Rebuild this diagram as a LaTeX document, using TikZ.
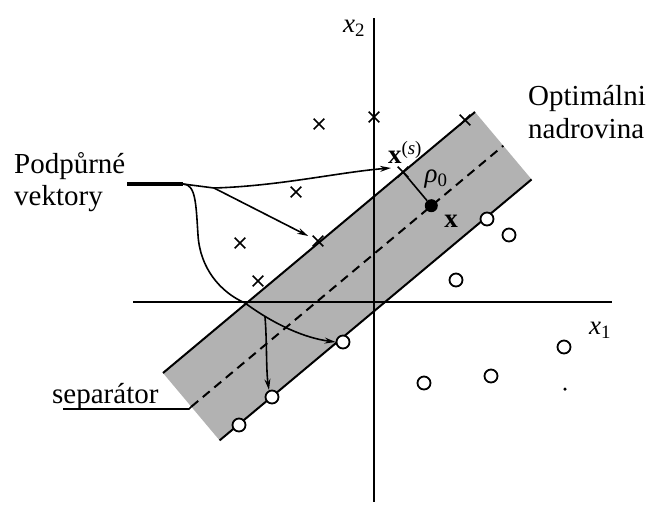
\documentclass[tikz,border=0pt]{standalone}
\usepackage{fontspec}
\setmainfont{Liberation Serif}
\usetikzlibrary{shapes.misc,arrows.meta,calc}
\begin{document}
\begin{tikzpicture}[x=1pt,y=-1pt,
  lbl/.style={font=\fontsize{29}{31}\selectfont, inner sep=0, anchor=base west},
  mlbl/.style={font=\fontsize{27}{29}\selectfont, inner sep=0},
  xmark/.style={draw, cross out, minimum size=9pt, inner sep=0, line width=1.7pt},
  omark/.style={draw, circle, minimum size=13pt, inner sep=0, line width=1.8pt, fill=white},
  bandline/.style={line width=2pt},
  axisline/.style={line width=2pt},
  ptr/.style={line width=1.6pt},
  tip/.style={-{Stealth[length=11pt,width=6pt]}, line width=1.6pt},
]
\useasboundingbox (0,0) rectangle (646,504);

% band
\coordinate (A) at (163,373);
\coordinate (B) at (475,112);
\coordinate (C) at (531.6,179.4);
\coordinate (D) at (219.6,440.4);
\coordinate (MA) at (191.3,406.7);
\coordinate (MB) at (503.3,145.7);
\fill[black!30] (A) -- (B) -- (C) -- (D) -- cycle;

% axes
\coordinate (h0) at (133,302);
\coordinate (h1) at (612,302);
\coordinate (v0) at (374,18);
\coordinate (v1) at (374,502);
\draw[axisline] (h0) -- (h1);
\draw[axisline] (v0) -- (v1);
\node[mlbl] (x2) at (354,28) {\textit{x}\textsubscript{2}};
\node[mlbl] (x1) at (600,330) {\textit{x}\textsubscript{1}};

% band edges and hyperplane
\draw[bandline] (A) -- (B);
\draw[bandline] (D) -- (C);
\draw[bandline, dash pattern=on 9pt off 6pt] (MA) -- (MB);

% crosses
\node[xmark] (c1) at (319,124) {};
\node[xmark] (c2) at (374,117) {};
\node[xmark] (c3) at (296,192) {};
\node[xmark] (c4) at (240,243) {};
\node[xmark] (c5) at (258,281) {};
\node[xmark] (sv2) at (318,241) {};
\node[xmark] (xs) at (403,172) {};
\node[xmark] (c8) at (465,120) {};

% circles
\node[omark] (o1) at (487,219) {};
\node[omark] (o2) at (509,235) {};
\node[omark] (o3) at (456,280) {};
\node[omark] (o4) at (343,342) {};
\node[omark] (o5) at (272,397) {};
\node[omark] (o6) at (239,425) {};
\node[omark] (o7) at (424,383) {};
\node[omark] (o8) at (491,376) {};
\node[omark] (o9) at (564,347) {};
\node[circle, fill=black, minimum size=3.5pt, inner sep=0] (speck) at (565,389) {};

% point x and margin
\node[circle, fill=black, minimum size=13pt, inner sep=0] (xdot) at (431.3,205.7) {};
\draw[ptr] (xs.center) -- (xdot);
\node[mlbl] (xsl) at (405,152) {\textbf{x}\textsuperscript{(\textit{s})}};
\node[mlbl] (rho) at (436,179) {\textit{ρ}\textsubscript{0}};
\node[mlbl] (xl) at (451,221) {\textbf{x}};

% texts
\node[lbl] (podp) at (14,173) {Podpůrné};
\node[lbl] (vekt) at (14,205) {vektory};
\node[lbl] (opt) at (528,105) {Optimálni};
\node[lbl] (nadr) at (528,138) {nadrovina};
\node[lbl] (sep) at (52,403) {separátor};

% pointers
\coordinate (t0) at (127,184);
\coordinate (t1) at (183,184);
\coordinate (br) at (214,188);
\coordinate (xsin) at (391,168);
\coordinate (dj) at (265,317);
\coordinate (o5in) at (269,390);
\coordinate (s0) at (63,409);
\draw[line width=4pt] (t0) -- (t1);
\draw[ptr] (t1) -- (br);
\draw[tip] (br) .. controls (280,186) and (340,172) .. (xsin);
\draw[tip, shorten >=5pt] (br) -- (sv2);
\draw[tip] (t1) .. controls (196,184) and (196,205) .. (198,235)
  .. controls (200,268) and (220,292) .. (245,303)
  .. controls (275,325) and (305,338) .. (o4.west);
\draw[tip] (dj) .. controls (267,340) and (266,370) .. (o5in);
\draw[ptr] (s0) -- (189,409) -- (MA);
\end{tikzpicture}
\end{document}
